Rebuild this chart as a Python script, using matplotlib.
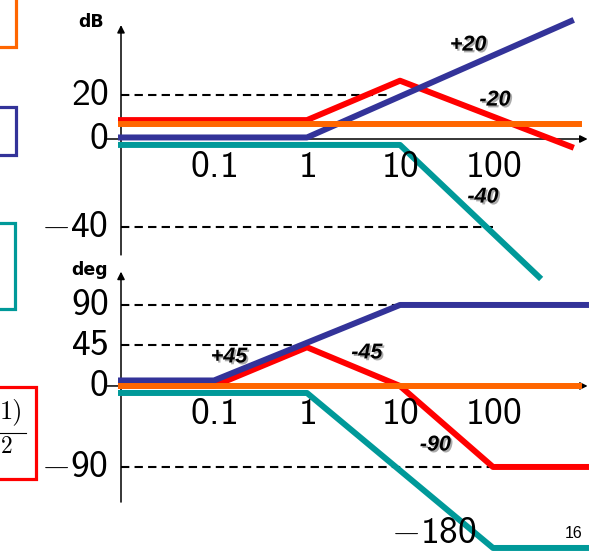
import matplotlib
matplotlib.use("Agg")
import matplotlib.pyplot as plt
import matplotlib.patheffects as pe
from matplotlib.patches import Rectangle
from matplotlib.lines import Line2D

# sans-serif Computer Modern for the axis numbers, TeX minus from the cm fallback
plt.rcParams["mathtext.fontset"] = "custom"
plt.rcParams["mathtext.rm"] = "cmss10"
plt.rcParams["mathtext.sf"] = "cmss10"
plt.rcParams["mathtext.it"] = "cmss10"
plt.rcParams["mathtext.fallback"] = "cm"

RED = "#ff0000"
ORANGE = "#ff6600"
BLUE = "#333399"
TEAL = "#009999"

# magnitude asymptotes: frequency (rad/s) and dB
mag_red_f = [0.01, 1, 10, 690]
mag_red_db = [8.6, 8.6, 26.5, -3.5]
mag_orange_f = [0.01, 840]
mag_orange_db = [6.8, 6.8]
mag_blue_f = [0.01, 1, 690]
mag_blue_db = [0.7, 0.7, 53.6]
mag_teal_f = [0.01, 10, 312]
mag_teal_db = [-2.7, -2.7, -62.7]

# phase asymptotes: frequency (rad/s) and degrees
ph_red_f = [0.01, 0.1, 1, 10, 100, 1000]
ph_red_deg = [0, 0, 43, 0, -90, -90]
ph_orange_f = [0.01, 840]
ph_orange_deg = [0, 0]
ph_blue_f = [0.01, 0.1, 10, 1000]
ph_blue_deg = [6.1, 6.1, 90, 90]
ph_teal_f = [0.01, 1, 100, 1000]
ph_teal_deg = [-7.8, -7.8, -180, -180]

freq_ticks = [0.1, 1, 10, 100]
freq_labels = ["0.1", "1", "10", "100"]

mag_ticks = [20, 0, -40]
mag_tick_labels = ["20", "0", "-40"]
mag_guide_ends = [7.2, None, 100]

phase_ticks = [90, 45, 0, -90]
phase_tick_labels = ["90", "45", "0", "-90"]
phase_guide_ends = [10, 1, None, 100]

mag_slopes = [("+20", 54, 42.7), ("-20", 105, 17.7), ("-40", 78, -26.4)]
phase_slopes = [("+45", 0.145, 32.2), ("-45", 4.4, 36.7), ("-90", 24, -65.6)]

W, H = 589, 553
LW = 4.3
NUM_SIZE = 27


def add_px_axes(fig, left, top, right, bottom):
    return fig.add_axes([left / W, 1 - bottom / H,
                         (right - left) / W, (bottom - top) / H])


def draw_axes(ax, y_lo, y_hi):
    arrow = dict(arrowstyle="-|>", color="k", lw=1.1, mutation_scale=11,
                 shrinkA=0, shrinkB=0)
    ax.annotate("", xy=(1040, 0), xytext=(0.0071, 0), arrowprops=arrow,
                annotation_clip=False, zorder=1)
    ax.annotate("", xy=(0.01, y_hi), xytext=(0.01, y_lo), arrowprops=arrow,
                annotation_clip=False, zorder=1)


def guides(ax, ticks, labels, ends):
    for v, lab, end in zip(ticks, labels, ends):
        if end is not None:
            ax.plot([0.01, end], [v, v], color="k", lw=1.5, dashes=(4, 2.5),
                    clip_on=False, zorder=1)
        ax.annotate("$%s$" % lab, xy=(0.01, v), xytext=(-9, 0),
                    textcoords="offset points", ha="right", va="center",
                    fontsize=NUM_SIZE, annotation_clip=False)


def slope_labels(ax, items):
    shadow = [pe.SimplePatchShadow(offset=(1.3, -1.3), shadow_rgbFace="0.45",
                                   alpha=0.6), pe.Normal()]
    for txt, f, v in items:
        ax.text(f, v, txt, ha="center", va="center", fontsize=15.5,
                family="Liberation Sans", weight="bold", style="italic",
                path_effects=shadow, clip_on=False)


fig = plt.figure(figsize=(W / 100, H / 100), dpi=100)
xmax = 10 ** ((589 - 307) / 93)

# ---- magnitude ----
ax_mag = add_px_axes(fig, 121, 20, 589, 258)
ax_mag.set_xscale("log")
ax_mag.set_xlim(0.01, xmax)
ax_mag.set_ylim(-54.1, 54.1)
ax_mag.set_axis_off()
draw_axes(ax_mag, -52.7, 51.8)
guides(ax_mag, mag_ticks, mag_tick_labels, mag_guide_ends)

ax_mag.plot(mag_red_f, mag_red_db, color=RED, lw=LW, clip_on=False, zorder=2)
ax_mag.plot(mag_blue_f, mag_blue_db, color=BLUE, lw=LW, clip_on=False, zorder=3)
ax_mag.plot(mag_teal_f, mag_teal_db, color=TEAL, lw=LW, clip_on=False, zorder=3)
ax_mag.plot(mag_orange_f, mag_orange_db, color=ORANGE, lw=LW, clip_on=False,
            zorder=4)

for f, lab in zip(freq_ticks, freq_labels):
    ax_mag.text(f, -12.7, "$%s$" % lab, ha="center", va="center",
                fontsize=NUM_SIZE)
ax_mag.text(0.0048, 53.0, "dB", ha="center", va="center", fontsize=12.5,
            family="DejaVu Sans", weight="bold", clip_on=False)
slope_labels(ax_mag, mag_slopes)

# ---- phase ----
ax_ph = add_px_axes(fig, 121, 265, 589, 553)
ax_ph.set_xscale("log")
ax_ph.set_xlim(0.01, xmax)
ax_ph.set_ylim(-185.6, 134.4)
ax_ph.set_axis_off()
draw_axes(ax_ph, -129, 127)
guides(ax_ph, phase_ticks, phase_tick_labels, phase_guide_ends)

ax_ph.plot(ph_red_f, ph_red_deg, color=RED, lw=LW, clip_on=False, zorder=2)
ax_ph.plot(ph_blue_f, ph_blue_deg, color=BLUE, lw=LW, clip_on=False, zorder=3)
ax_ph.plot(ph_teal_f, ph_teal_deg, color=TEAL, lw=LW, clip_on=False, zorder=3)
ax_ph.plot(ph_orange_f, ph_orange_deg, color=ORANGE, lw=LW, clip_on=False,
           zorder=4)

for f, lab in zip(freq_ticks, freq_labels):
    ax_ph.text(f, -31, "$%s$" % lab, ha="center", va="center",
               fontsize=NUM_SIZE)
# the -180 label sits on its own level, next to the teal asymptote
ax_ph.text(67, -175, "$-180$", ha="right", va="baseline", fontsize=NUM_SIZE)
ax_ph.text(0.0046, 129, "deg", ha="center", va="center", fontsize=12.5,
           family="DejaVu Sans", weight="bold", clip_on=False)
slope_labels(ax_ph, phase_slopes)

# ---- boxes cut off at the left edge of the slide ----
boxes = [(ORANGE, -30, 47, 15.8), (BLUE, 107, 155, 15.5),
         (TEAL, 223, 309, 14.5), (RED, 387, 479, 36)]
for color, top, bottom, right in boxes:
    fig.add_artist(Rectangle((-20 / W, 1 - bottom / H), (right + 20) / W,
                             (bottom - top) / H, transform=fig.transFigure,
                             fill=False, ec=color, lw=2.3, clip_on=False))
fig.text(23 / W, 1 - 412 / H, "1)", ha="right", va="center", fontsize=19,
         family="cmr10")
fig.add_artist(Line2D([0, 26 / W], [1 - 433 / H] * 2, transform=fig.transFigure,
                      color="k", lw=0.8))
fig.text(13 / W, 1 - 447 / H, "2", ha="right", va="center", fontsize=17,
         family="cmr10")

fig.text(574 / W, 1 - 534 / H, "16", ha="center", va="center", fontsize=11.5,
         family="Liberation Sans")

fig.savefig("out.png", dpi=100)
